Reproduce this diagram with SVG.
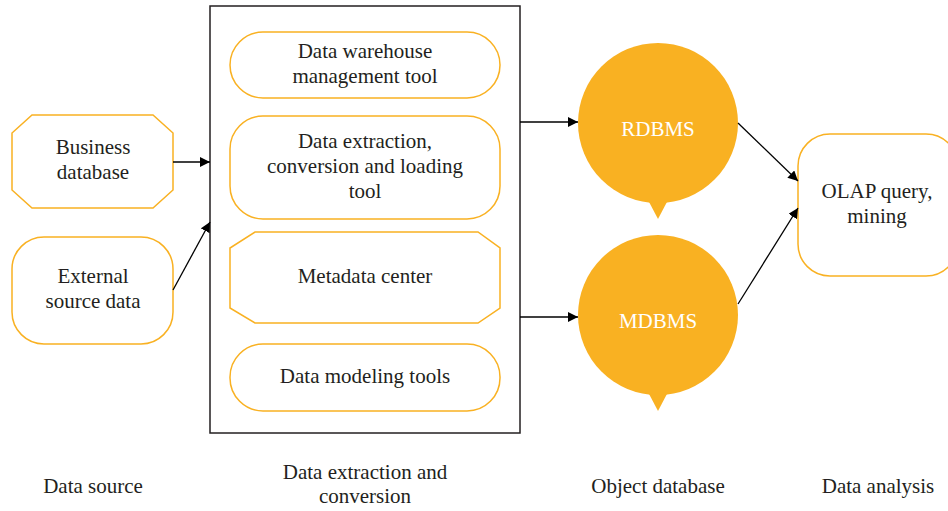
<svg xmlns="http://www.w3.org/2000/svg" width="948" height="511" viewBox="0 0 948 511">
<style>
.box{fill:#fff;stroke:#F9B122;stroke-width:1.5}
.t{font-family:"Liberation Serif",serif;font-size:21px;fill:#231F20;text-anchor:middle}
.w{font-family:"Liberation Serif",serif;font-size:21px;fill:#fff;text-anchor:middle}
.c{fill:none;stroke:#000;stroke-width:1.3}
.db{fill:#F9B122}
</style>
<defs>
<marker id="ah" markerWidth="10" markerHeight="10" refX="10" refY="5" orient="auto" markerUnits="userSpaceOnUse">
<path d="M0,0 L10,5 L0,10 z" fill="#000"/>
</marker>
</defs>
<rect width="948" height="511" fill="#fff"/>
<g id="business">
<polygon class="box" points="32,115 153,115 173,133 173,190 153,208 32,208 12,190 12,133"/>
<text class="t" x="93" y="154">Business</text>
<text class="t" x="93" y="179">database</text>
</g>
<g id="external">
<rect class="box" x="12" y="237" width="161" height="107" rx="32"/>
<text class="t" x="93" y="283">External</text>
<text class="t" x="93" y="308">source data</text>
</g>
<g id="main">
<rect x="210" y="6" width="310" height="427" fill="#fff" stroke="#231F20" stroke-width="1.5"/>
</g>
<g id="dwm">
<rect class="box" x="230" y="32" width="270" height="66" rx="33"/>
<text class="t" x="365" y="58">Data warehouse</text>
<text class="t" x="365" y="83">management tool</text>
</g>
<g id="etl">
<rect class="box" x="230" y="116" width="270" height="103" rx="33"/>
<text class="t" x="365" y="148">Data extraction,</text>
<text class="t" x="365" y="173">conversion and loading</text>
<text class="t" x="365" y="198">tool</text>
</g>
<g id="meta">
<polygon class="box" points="255,232 478,232 500,248 500,308 478,323 255,323 230,308 230,248"/>
<text class="t" x="365" y="283">Metadata center</text>
</g>
<g id="modeling">
<rect class="box" x="230" y="344" width="270" height="67" rx="33"/>
<text class="t" x="365" y="383">Data modeling tools</text>
</g>
<g id="rdbms">
<circle class="db" cx="658" cy="123" r="80"/>
<polygon class="db" points="648,200 668,200 658,219"/>
<text class="w" x="658" y="136">RDBMS</text>
</g>
<g id="mdbms">
<circle class="db" cx="658" cy="315" r="80"/>
<polygon class="db" points="648,392 668,392 658,411"/>
<text class="w" x="658" y="328">MDBMS</text>
</g>
<g id="olap">
<rect class="box" x="798" y="134" width="160" height="142" rx="32"/>
<text class="t" x="877" y="198">OLAP query,</text>
<text class="t" x="877" y="223">mining</text>
</g>
<g id="connectors">
<line class="c" x1="173" y1="162" x2="210" y2="162" marker-end="url(#ah)"/>
<line class="c" x1="173" y1="290" x2="210" y2="222" marker-end="url(#ah)"/>
<line class="c" x1="520" y1="122" x2="578" y2="122" marker-end="url(#ah)"/>
<line class="c" x1="520" y1="317" x2="578" y2="317" marker-end="url(#ah)"/>
<line class="c" x1="738" y1="123" x2="798" y2="181" marker-end="url(#ah)"/>
<line class="c" x1="738" y1="304" x2="798" y2="208" marker-end="url(#ah)"/>
</g>
<g id="labels">
<text class="t" x="93" y="493">Data source</text>
<text class="t" x="365" y="479">Data extraction and</text>
<text class="t" x="365" y="503">conversion</text>
<text class="t" x="658" y="493">Object database</text>
<text class="t" x="878" y="493">Data analysis</text>
</g>
</svg>
